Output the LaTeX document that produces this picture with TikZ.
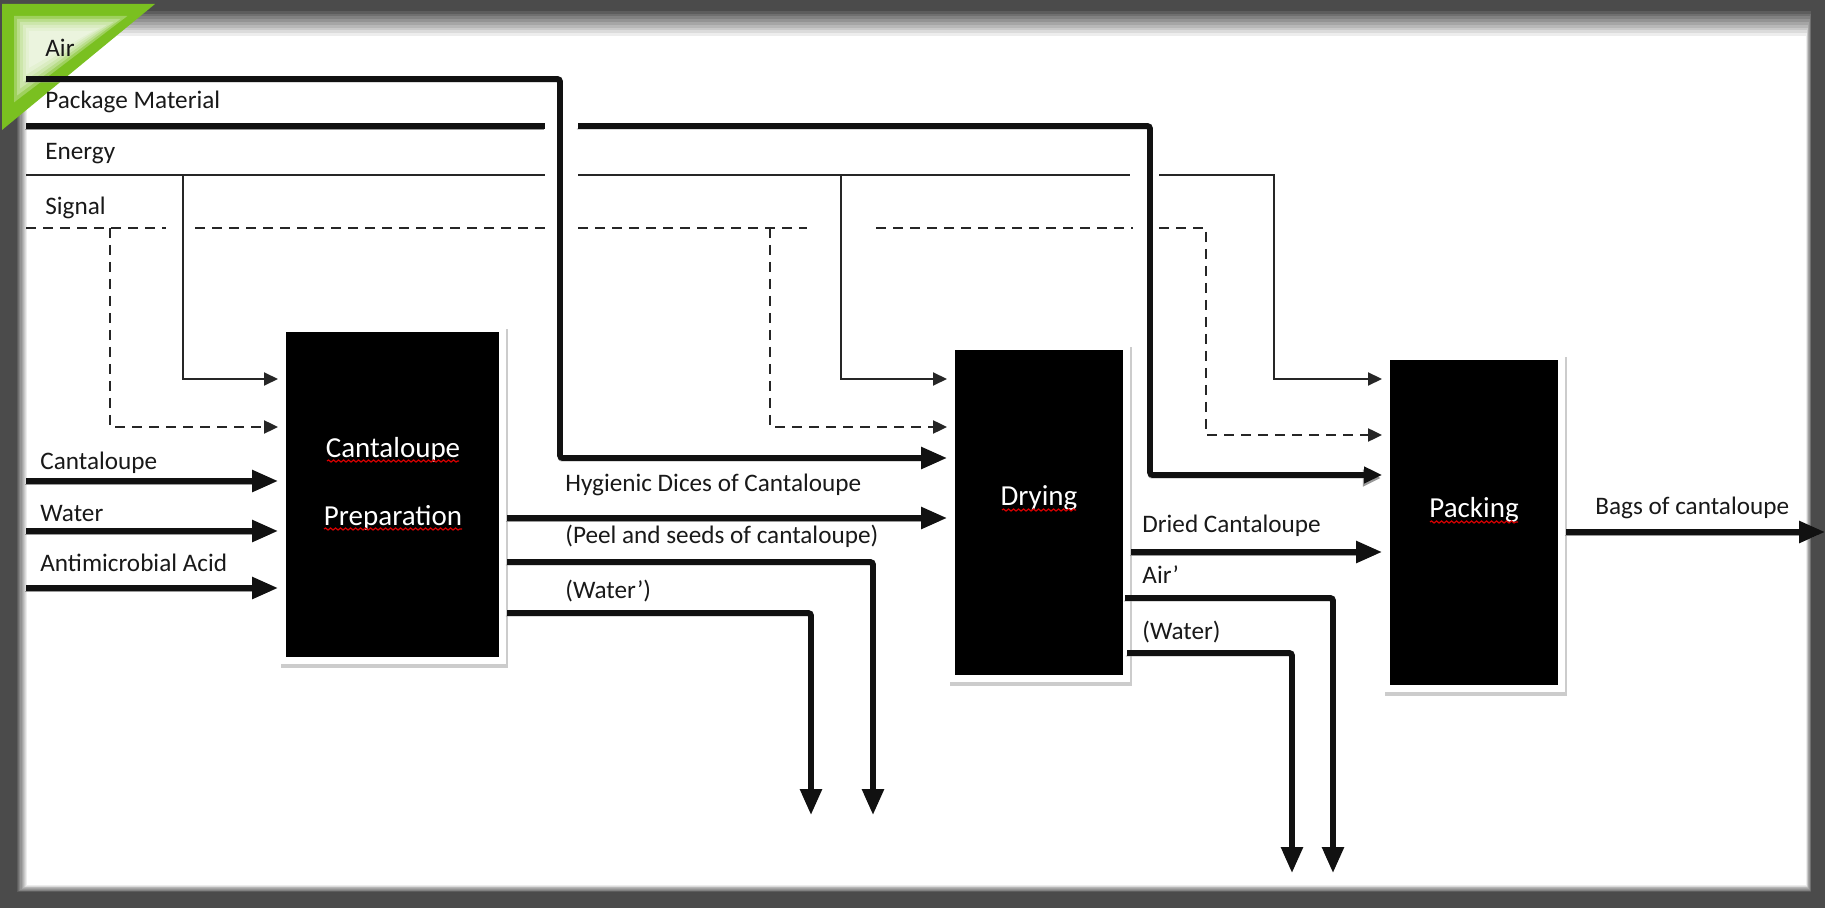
\documentclass[tikz,border=0pt]{standalone}
\usepackage{fontspec}
\setmainfont{Carlito}
\usetikzlibrary{arrows.meta,decorations.pathmorphing}
\definecolor{framegray}{HTML}{4B4B4B}
\definecolor{leaf}{RGB}{122,192,32}
\definecolor{ink}{HTML}{111111}
\begin{document}
\begin{tikzpicture}[x=0.5pt,y=-0.5pt,
  lbl/.style={anchor=west, inner sep=0pt, font=\fontsize{12.6}{14}\selectfont, text=black!90, text height=9pt, text depth=2.5pt},
  boxtxt/.style={inner sep=0pt, font=\fontsize{14.5}{16}\selectfont, text=white},
  procbox/.style={fill=black, draw=none, inner sep=0pt, outer sep=4pt, minimum height=162.5pt,
     preaction={draw=black!20, line width=7pt, transform canvas={shift={(1.2pt,-2pt)}}},
     preaction={draw=white, line width=7pt}},
  thk/.style={draw=ink, line width=2.8pt, rounded corners=1.2pt,
     preaction={draw=black!40, transform canvas={shift={(-0.6pt,-1.5pt)}}}},
  thkarrow/.style={thk, -{Triangle[length=13pt,width=10.5pt]}},
  thn/.style={draw=black!85, line width=1pt},
  thnarrow/.style={thn, -{Triangle[length=7pt,width=6.5pt]}},
  sig/.style={draw=black!85, line width=1.2pt, dash pattern=on 5pt off 3.5pt},
  sigarrow/.style={sig, -{Triangle[length=7pt,width=6.5pt]}},
  spell/.style={draw=red!85!black, line width=0.6pt, decorate, decoration={snake, amplitude=0.5pt, segment length=2.5pt}}
]
\useasboundingbox (0,0) rectangle (1825,908);
% frame
\fill[framegray] (0,0) rectangle (1825,908);
\foreach \i in {0,...,10}{
  \pgfmathtruncatemacro{\pc}{\i*10}
  \fill[white!\pc!framegray] (16+\i*1.1, 8+\i*2.8) rectangle (1812-\i*0.6, 893-\i*0.8);
}
\fill[leaf] (2,4) -- (155,4) -- (2,130) -- cycle;
\foreach \d in {12,15,18,21,24,27}{
  \fill[white, opacity=0.28] (2+\d,4+\d) -- (155-2.3*\d,4+\d) -- (2+\d,130-2.3*\d) -- cycle;
}

% process boxes
\node[procbox, minimum width=106.5pt] (prep) at (392.5,494.5) {};
\node[procbox, minimum width=84pt] (dry) at (1039,512.5) {};
\node[procbox, minimum width=84pt] (pack) at (1474,522.5) {};

\node[boxtxt] (prepT1) at (393,450) {Cantaloupe};
\node[boxtxt] (prepT2) at (393,518) {Preparation};
\node[boxtxt] (dryT) at (1039,498) {Drying};
\node[boxtxt] (packT) at (1474,510) {Packing};
\draw[spell] (327,461) -- (459,461);
\draw[spell] (324,529) -- (462,529);
\draw[spell] (1002,510) -- (1076,510);
\draw[spell] (1430,522) -- (1518,522);

% labels
\node[lbl] (lAir) at (45,50) {Air};
\node[lbl] (lPkg) at (45,102) {Package Material};
\node[lbl] (lEn) at (45,153) {Energy};
\node[lbl] (lSg) at (45,208) {Signal};
\node[lbl] (lC) at (40,463) {Cantaloupe};
\node[lbl] (lW) at (40,515) {Water};
\node[lbl] (lA) at (40,565) {Antimicrobial Acid};
\node[lbl] (lHy) at (565,485) {Hygienic Dices of Cantaloupe};
\node[lbl] (lPeel) at (565,537) {(Peel and seeds of cantaloupe)};
\node[lbl] (lWp) at (565,592) {(Water’)};
\node[lbl] (lDc) at (1142,526) {Dried Cantaloupe};
\node[lbl] (lAp) at (1142,577) {Air’};
\node[lbl] (lWd) at (1142,633) {(Water)};
\node[lbl] (lBags) at (1595,508) {Bags of cantaloupe};

% coordinates
\coordinate (airL) at (26,79);
\coordinate (airV) at (560,458);
\coordinate (pkgL) at (26,126);
\coordinate (pkgA) at (545,126);
\coordinate (pkgB) at (578,126);
\coordinate (pkgV) at (1150,475);
\coordinate (enL) at (26,175);
\coordinate (enA) at (545,175);
\coordinate (enB) at (578,175);
\coordinate (enC) at (1130,175);
\coordinate (enD) at (1159,175);
\coordinate (en1) at (183,379);
\coordinate (en2) at (841,379);
\coordinate (en3) at (1274,379);
\coordinate (sgL) at (26,228);
\coordinate (sgA) at (166,228);
\coordinate (sgB) at (195,228);
\coordinate (sgC) at (545,228);
\coordinate (sgD) at (578,228);
\coordinate (sgE) at (807,228);
\coordinate (sgF) at (876,228);
\coordinate (sgG) at (1133,228);
\coordinate (sgH) at (1159,228);
\coordinate (sg1) at (110,427);
\coordinate (sg2) at (770,427);
\coordinate (sg3) at (1206,435);
\coordinate (inC) at (26,481);
\coordinate (inW) at (26,531);
\coordinate (inA) at (26,588);
\coordinate (hyY) at (0,518);
\coordinate (peelY) at (0,562);
\coordinate (peelD) at (873,815);
\coordinate (wpY) at (0,613);
\coordinate (wpD) at (811,815);
\coordinate (dcY) at (0,552);
\coordinate (apY) at (0,598);
\coordinate (apD) at (1333,873);
\coordinate (wY) at (0,653);
\coordinate (wD) at (1292,873);
\coordinate (bY) at (0,532);
\coordinate (bagsR) at (1825,532);

% Air
\draw[thkarrow] (airL) -| (airV) -- (airV -| dry.west);
% Package material
\draw[thk] (pkgL) -- (pkgA);
\draw[thk, -{Triangle[length=9pt,width=8pt]}] (pkgB) -| (pkgV) -- (pkgV -| pack.west);
% Energy
\draw[thn] (enL) -- (enA);
\draw[thnarrow] (en1 |- enL) -- (en1) -- (en1 -| prep.west);
\draw[thn] (enB) -- (enC);
\draw[thnarrow] (en2 |- enL) -- (en2) -- (en2 -| dry.west);
\draw[thnarrow] (enD) -| (en3) -- (en3 -| pack.west);
% Signal
\draw[sig] (sgL) -- (sgA);
\draw[sig] (sgB) -- (sgC);
\draw[sig] (sgD) -- (sgE);
\draw[sig] (sgF) -- (sgG);
\draw[sigarrow] (sg1 |- sgL) -- (sg1) -- (sg1 -| prep.west);
\draw[sigarrow] (sg2 |- sgL) -- (sg2) -- (sg2 -| dry.west);
\draw[sigarrow] (sgH) -| (sg3) -- (sg3 -| pack.west);
% inputs
\draw[thkarrow] (inC) -- (inC -| prep.west);
\draw[thkarrow] (inW) -- (inW -| prep.west);
\draw[thkarrow] (inA) -- (inA -| prep.west);
% outputs
\draw[thkarrow] (prep.east |- hyY) -- (dry.west |- hyY);
\draw[thkarrow] (prep.east |- peelY) -| (peelD);
\draw[thkarrow] (prep.east |- wpY) -| (wpD);
\draw[thkarrow] (dry.east |- dcY) -- (pack.west |- dcY);
\draw[thkarrow] ([xshift=-3pt]dry.east |- apY) -| (apD);
\draw[thkarrow] ([xshift=-2pt]dry.east |- wY) -| (wD);
\draw[thkarrow] (pack.east |- bY) -- (bagsR);
\end{tikzpicture}
\end{document}
